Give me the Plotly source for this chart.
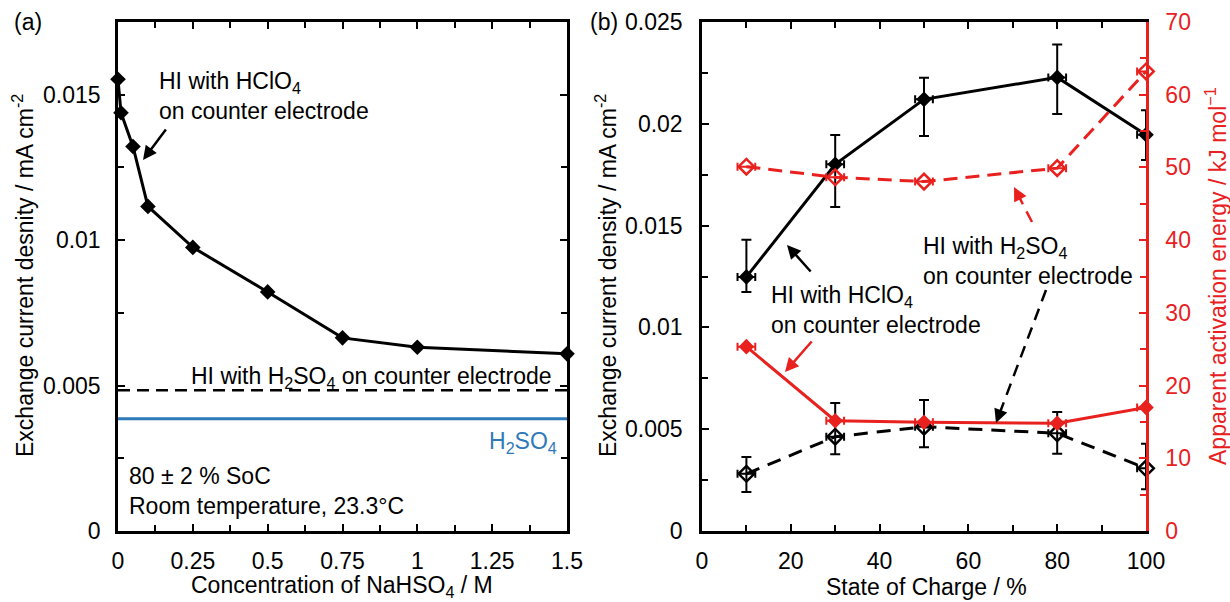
import plotly.graph_objects as go

W, H = 1230, 602
FONT = "Liberation Sans, Arial, sans-serif"
RED = "#e8211f"
BLUE = "#2e7ab8"

# ---------------- Panel (a) data ----------------
nahso4_conc = [0, 0.01, 0.05, 0.1, 0.25, 0.5, 0.75, 1.0, 1.5]
i0_hclo4_counter_a = [0.01553, 0.01438, 0.01322, 0.01116, 0.00975, 0.00822, 0.00664, 0.00632, 0.00609]
i0_h2so4_counter_a = 0.00484
i0_h2so4_only_a = 0.00386
conc_span = [0, 1.5]
a_xtick_vals = [0, 0.25, 0.5, 0.75, 1, 1.25, 1.5]
a_xtick_text = ["0", "0.25", "0.5", "0.75", "1", "1.25", "1.5"]
a_ytick_vals = [0, 0.005, 0.01, 0.015]
a_ytick_text = ["0", "0.005", "0.01", "0.015"]

# ---------------- Panel (b) data ----------------
soc = [10, 30, 50, 80, 100]
soc_err = [2, 2, 2, 2, 2]
i0_hclo4_b = [0.01248, 0.01801, 0.02120, 0.02228, 0.01946]
i0_hclo4_b_up = [0.00182, 0.00144, 0.00106, 0.00162, 0.00121]
i0_hclo4_b_dn = [0.00074, 0.00210, 0.00180, 0.00180, 0.00124]
i0_h2so4_b = [0.00281, 0.00463, 0.00512, 0.00480, 0.00308]
i0_h2so4_b_up = [0.00082, 0.00166, 0.00131, 0.00105, 0.00120]
i0_h2so4_b_dn = [0.00090, 0.00086, 0.00101, 0.00101, 0.00103]
ea_hclo4 = [25.35, 15.17, 14.95, 14.81, 17.0]
ea_h2so4 = [50.1, 48.65, 48.05, 49.9, 63.2]
b_xtick_vals = [0, 20, 40, 60, 80, 100]
b_xtick_text = ["0", "20", "40", "60", "80", "100"]
b_ytick_vals = [0, 0.005, 0.01, 0.015, 0.02, 0.025]
b_ytick_text = ["0", "0.005", "0.01", "0.015", "0.02", "0.025"]
b_y2tick_vals = [0, 10, 20, 30, 40, 50, 60, 70]
b_y2tick_text = ["0", "10", "20", "30", "40", "50", "60", "70"]


def px(x):
    return x / W


def py(y):
    return 1 - y / H


fig = go.Figure()

# Panel (a)
fig.add_trace(go.Scatter(
    x=nahso4_conc, y=i0_hclo4_counter_a, mode="lines+markers",
    line=dict(color="black", width=3),
    marker=dict(symbol="diamond", size=12, color="black"),
    cliponaxis=False, xaxis="x", yaxis="y", showlegend=False))
fig.add_trace(go.Scatter(
    x=conc_span, y=[i0_h2so4_counter_a] * len(conc_span), mode="lines",
    line=dict(color="black", width=2.5, dash="12px,7px"),
    xaxis="x", yaxis="y", showlegend=False))
fig.add_trace(go.Scatter(
    x=conc_span, y=[i0_h2so4_only_a] * len(conc_span), mode="lines",
    line=dict(color=BLUE, width=3),
    xaxis="x", yaxis="y", showlegend=False))

# Panel (b)
fig.add_trace(go.Scatter(
    x=soc, y=ea_h2so4, mode="lines+markers",
    line=dict(color=RED, width=3, dash="14px,8px"),
    marker=dict(symbol="diamond-open", size=12, color=RED, line=dict(width=2.5, color=RED)),
    error_x=dict(type="data", array=soc_err, color=RED, thickness=2, width=4),
    cliponaxis=False, xaxis="x2", yaxis="y3", showlegend=False))
fig.add_trace(go.Scatter(
    x=soc, y=ea_hclo4, mode="lines+markers",
    line=dict(color=RED, width=3),
    marker=dict(symbol="diamond", size=12, color=RED),
    error_x=dict(type="data", array=soc_err, color=RED, thickness=2, width=4),
    cliponaxis=False, xaxis="x2", yaxis="y3", showlegend=False))
fig.add_trace(go.Scatter(
    x=soc, y=i0_h2so4_b, mode="lines+markers",
    line=dict(color="black", width=3, dash="14px,9px"),
    marker=dict(symbol="diamond-open", size=12, color="black", line=dict(width=2.5, color="black")),
    error_y=dict(type="data", symmetric=False, array=i0_h2so4_b_up, arrayminus=i0_h2so4_b_dn,
                 color="black", thickness=2, width=5),
    error_x=dict(type="data", array=soc_err, color="black", thickness=2, width=4),
    cliponaxis=False, xaxis="x2", yaxis="y2", showlegend=False))
fig.add_trace(go.Scatter(
    x=soc, y=i0_hclo4_b, mode="lines+markers",
    line=dict(color="black", width=3),
    marker=dict(symbol="diamond", size=12, color="black"),
    error_y=dict(type="data", symmetric=False, array=i0_hclo4_b_up, arrayminus=i0_hclo4_b_dn,
                 color="black", thickness=2, width=5),
    error_x=dict(type="data", array=soc_err, color="black", thickness=2, width=4),
    cliponaxis=False, xaxis="x2", yaxis="y2", showlegend=False))

tickfont = dict(family=FONT, size=23, color="black")
common = dict(showline=True, linecolor="black", linewidth=2.5, ticks="inside", ticklen=7,
              tickwidth=2, tickcolor="black", showgrid=False, zeroline=False,
              tickfont=tickfont, automargin=False, fixedrange=True)

ydom = [py(531), py(22)]

fig.update_layout(
    width=W, height=H,
    margin=dict(l=0, r=0, t=0, b=0),
    paper_bgcolor="white", plot_bgcolor="white",
    font=dict(family=FONT, size=23, color="black"),
    xaxis=dict(domain=[px(118), px(567)], range=[0, 1.5], anchor="y", mirror="ticks",
               tickmode="array", tickvals=a_xtick_vals, ticktext=a_xtick_text,
               ticklabelstandoff=8,
               minor=dict(dtick=0.125, tick0=0, ticks="inside", ticklen=6, tickwidth=2, tickcolor="black"),
               **common),
    yaxis=dict(domain=ydom, range=[0, 0.0175], anchor="x", mirror="ticks",
               tickmode="array", tickvals=a_ytick_vals, ticktext=a_ytick_text,
               ticklabelstandoff=10,
               minor=dict(dtick=0.0025, tick0=0, ticks="inside", ticklen=6, tickwidth=2, tickcolor="black"),
               **common),
    xaxis2=dict(domain=[px(702), px(1146)], range=[0, 100], anchor="y2", mirror="ticks",
                tickmode="array", tickvals=b_xtick_vals, ticktext=b_xtick_text,
                ticklabelstandoff=8,
                minor=dict(dtick=10, tick0=0, ticks="inside", ticklen=6, tickwidth=2, tickcolor="black"),
                **common),
    yaxis2=dict(domain=ydom, range=[0, 0.025], anchor="x2", mirror=False,
                tickmode="array", tickvals=b_ytick_vals, ticktext=b_ytick_text,
                ticklabelstandoff=12,
                minor=dict(dtick=0.0025, tick0=0, ticks="inside", ticklen=6, tickwidth=2, tickcolor="black"),
                **common),
    yaxis3=dict(domain=ydom, range=[0, 70], anchor="x2", overlaying="y2", side="right",
                tickmode="array", tickvals=b_y2tick_vals, ticktext=b_y2tick_text,
                ticklabelstandoff=12,
                showline=True, linecolor=RED, linewidth=2.5, ticks="inside", ticklen=7,
                tickwidth=2, tickcolor=RED, showgrid=False, zeroline=False,
                tickfont=dict(family=FONT, size=23, color=RED), automargin=False, fixedrange=True,
                minor=dict(dtick=5, tick0=0, ticks="inside", ticklen=6, tickwidth=2, tickcolor=RED)),
)


def ann(text, x, y, xanchor="left", yanchor="middle", color="black", size=23, angle=0):
    return dict(text=text, x=px(x), y=py(y), xref="paper", yref="paper",
                xanchor=xanchor, yanchor=yanchor, align=xanchor if xanchor != "center" else "center",
                showarrow=False, textangle=angle,
                font=dict(family=FONT, size=size, color=color))


def arrow(tail, head, color):
    return dict(text="", x=px(head[0]), y=py(head[1]), xref="paper", yref="paper",
                ax=tail[0] - head[0], ay=tail[1] - head[1], axref="pixel", ayref="pixel",
                showarrow=True, arrowhead=2, arrowsize=1.1, arrowwidth=2.5, arrowcolor=color)


def dashed_arrow(tail, head, color):
    dx, dy = head[0] - tail[0], head[1] - tail[1]
    L = (dx * dx + dy * dy) ** 0.5
    ux, uy = dx / L, dy / L
    k = 12
    shape = dict(type="line", xref="paper", yref="paper",
                 x0=px(tail[0]), y0=py(tail[1]),
                 x1=px(head[0] - ux * k), y1=py(head[1] - uy * k),
                 line=dict(color=color, width=2.5, dash="12px,8px"))
    a = dict(text="", x=px(head[0]), y=py(head[1]), xref="paper", yref="paper",
             ax=-ux * k, ay=-uy * k, axref="pixel", ayref="pixel",
             showarrow=True, arrowhead=2, arrowsize=1.1, arrowwidth=2.5, arrowcolor=color)
    return shape, a


annotations = [
    ann("(a)", 12, 22),
    ann("(b)", 588, 22),
    ann("Exchange current desnity / mA cm<sup>-2</sup>", 23, 276, xanchor="center", angle=-90),
    ann("Concentration of NaHSO<sub>4</sub> / M", 342, 586, xanchor="center"),
    ann("Exchange current density / mA cm<sup>-2</sup>", 606, 276, xanchor="center", angle=-90),
    ann("State of Charge / %", 926, 587, xanchor="center"),
    ann("Apparent activation energy / kJ mol<sup>\u22121</sup>", 1216, 276, xanchor="center",
        angle=-90, color=RED),
    # panel (a) labels
    ann("HI with HClO<sub>4</sub><br>on counter electrode", 157, 96),
    ann("HI with H<sub>2</sub>SO<sub>4</sub> on counter electrode", 554, 377, xanchor="right"),
    ann("H<sub>2</sub>SO<sub>4</sub>", 559, 442, xanchor="right", color=BLUE),
    ann("80 \u00b1 2 % SoC<br>Room temperature, 23.3\u00b0C", 127, 491),
    # panel (b) labels
    ann("HI with HClO<sub>4</sub><br>on counter electrode", 769, 310),
    ann("HI with H<sub>2</sub>SO<sub>4</sub><br>on counter electrode", 921, 261),
    arrow((167, 128), (143, 160), "black"),
    arrow((812, 273), (787, 245), "black"),
    arrow((813, 340), (785, 372), RED),
]

shapes = []
s1, a1 = dashed_arrow((1032, 222), (1014, 187), RED)
s2, a2 = dashed_arrow((1046, 290), (996, 423), "black")
shapes += [s1, s2]
annotations += [a1, a2]

fig.update_layout(annotations=annotations, shapes=shapes)

fig.write_html("out.html", config={"displayModeBar": False})
